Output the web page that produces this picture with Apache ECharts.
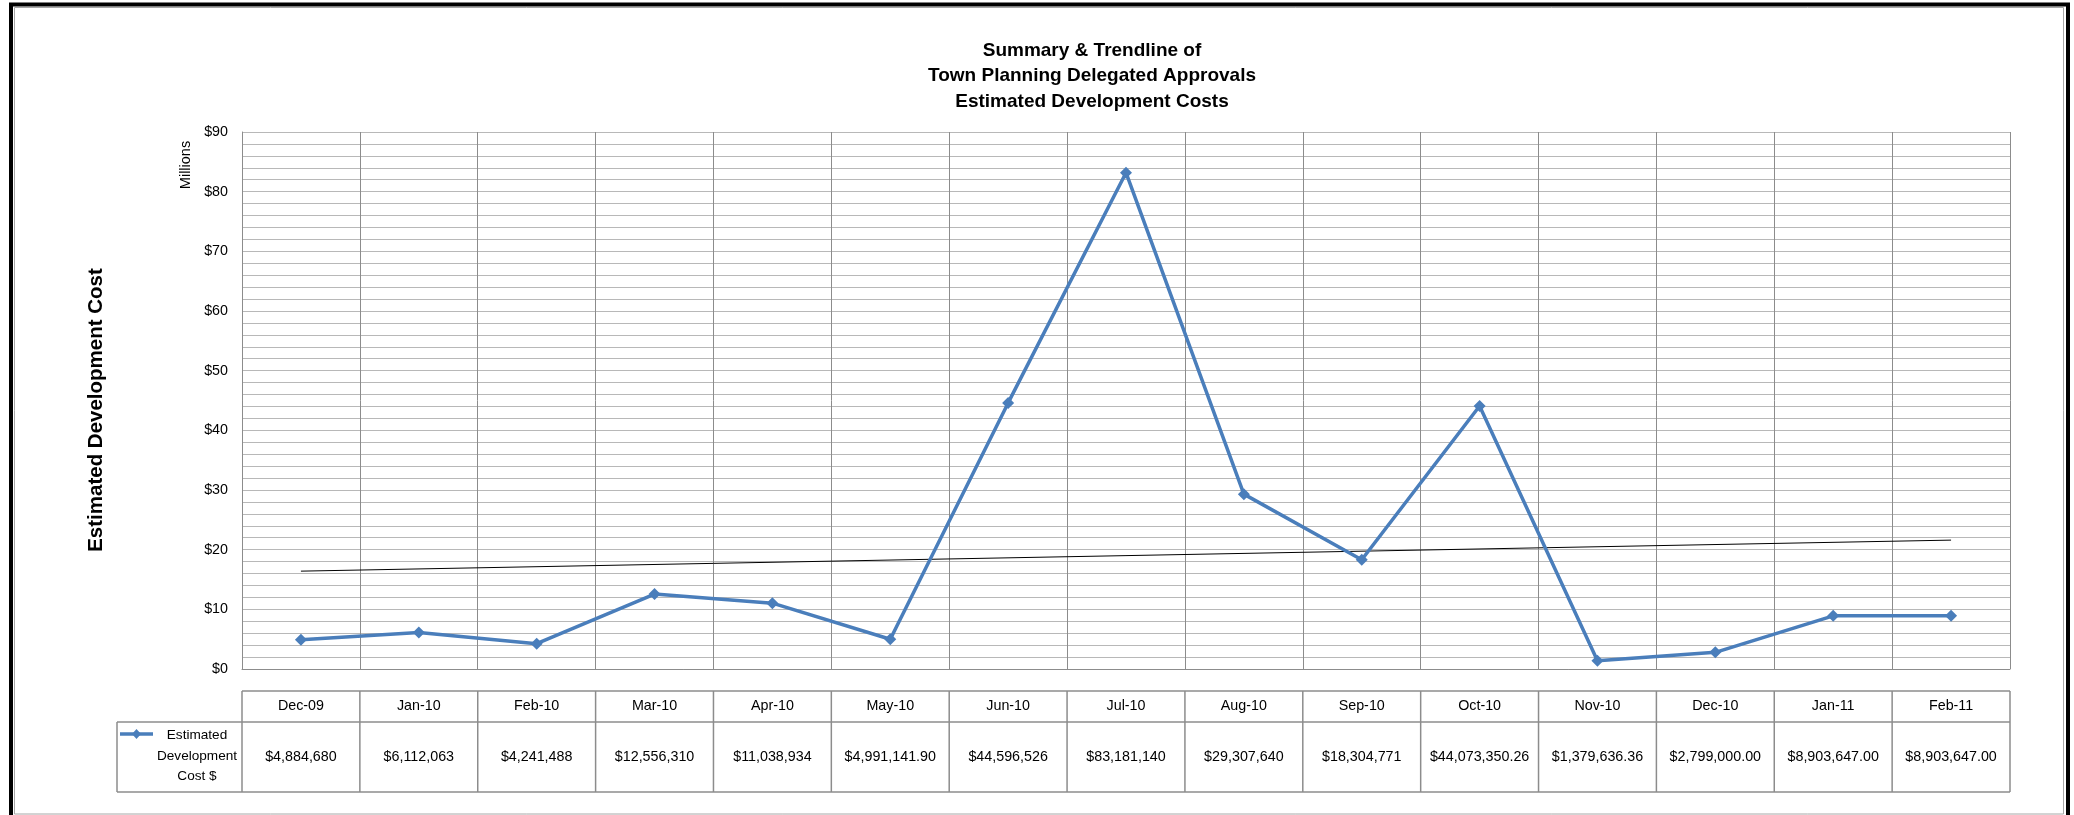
<!DOCTYPE html>
<html>
<head>
<meta charset="utf-8">
<script src="https://cdn.jsdelivr.net/npm/echarts@6/dist/echarts.min.js"></script>
<style>
html,body{margin:0;padding:0;background:#fff;}
#chart{width:2074px;height:815px;}
</style>
</head>
<body>
<div id="chart"></div>
<script>
// ---- data ----
const categories = ['Dec-09','Jan-10','Feb-10','Mar-10','Apr-10','May-10','Jun-10','Jul-10','Aug-10','Sep-10','Oct-10','Nov-10','Dec-10','Jan-11','Feb-11'];
const costValues = [4884680, 6112063, 4241488, 12556310, 11038934, 4991141.90, 44596526, 83181140, 29307640, 18304771, 44073350.26, 1379636.36, 2799000.00, 8903647.00, 8903647.00];
const costLabels = ['$4,884,680','$6,112,063','$4,241,488','$12,556,310','$11,038,934','$4,991,141.90','$44,596,526','$83,181,140','$29,307,640','$18,304,771','$44,073,350.26','$1,379,636.36','$2,799,000.00','$8,903,647.00','$8,903,647.00'];
const trendEnds = [[0, 16.4], [14, 21.6]]; // in millions
const yTicks = [0, 10, 20, 30, 40, 50, 60, 70, 80, 90];
const seriesName = 'Estimated Development Cost $';
const legendLines = ['Estimated', 'Development', 'Cost $'];
const titleLines = ['Summary & Trendline of', 'Town Planning Delegated Approvals', 'Estimated Development Costs'];

const FONT = 'Liberation Sans, Arial, sans-serif';
const BLUE = '#4A7EBB';
const TXT = 14.3;
const valuesM = costValues.map(v => v / 1e6);

const chart = echarts.init(document.getElementById('chart'), null, {renderer: 'canvas'});

const option = {
  animation: false,
  backgroundColor: '#fff',
  title: {
    text: titleLines.join('\n'),
    left: 1087,
    top: 33,
    textAlign: 'center',
    textStyle: {fontFamily: FONT, fontSize: 19, fontWeight: 'bold', color: '#000', lineHeight: 25.5}
  },
  grid: {left: 242, right: 64, top: 132, bottom: 146, containLabel: false},
  xAxis: {
    type: 'category',
    data: categories,
    boundaryGap: true,
    axisLine: {show: true, lineStyle: {color: '#8C8C8C', width: 1}},
    axisTick: {show: false},
    axisLabel: {show: false},
    splitLine: {show: true, lineStyle: {color: '#8C8C8C', width: 1}}
  },
  yAxis: {
    type: 'value',
    min: yTicks[0],
    max: yTicks[yTicks.length - 1],
    interval: 10,
    axisLine: {show: true, lineStyle: {color: '#8C8C8C', width: 1}},
    axisTick: {show: false},
    axisLabel: {
      margin: 14,
      fontFamily: FONT, fontSize: TXT, color: '#000',
      formatter: v => '$' + v
    },
    splitLine: {show: true, lineStyle: {color: '#B8B8B8', width: 1}},
    minorTick: {show: false, splitNumber: 5},
    minorSplitLine: {show: true, lineStyle: {color: '#B8B8B8', width: 1}}
  },
  series: [
    {
      name: seriesName,
      type: 'line',
      data: valuesM,
      symbol: 'diamond',
      symbolSize: 12,
      lineStyle: {color: BLUE, width: 3.5},
      itemStyle: {color: BLUE},
      z: 5
    },
    {
      name: 'Trendline',
      type: 'line',
      data: trendEnds,
      symbol: 'none',
      lineStyle: {color: '#000', width: 1},
      z: 4
    }
  ]
};
chart.setOption(option);

// ---- build frame, data table and side texts from axis positions ----
const x0 = chart.convertToPixel({xAxisIndex: 0}, 0);
const x1 = chart.convertToPixel({xAxisIndex: 0}, 1);
const band = x1 - x0;
const tableTop = 691, tableMid = 722, tableBottom = 792;
const legendLeft = 117;
const plotLeft = x0 - band / 2;
const plotRight = chart.convertToPixel({xAxisIndex: 0}, categories.length - 1) + band / 2;
const lineColor = '#8C8C8C';
const g = [];

// outer frame
g.push({type: 'rect', shape: {x: 11, y: 4.5, width: 2057, height: 820}, style: {fill: null, stroke: '#000', lineWidth: 4}, silent: true});
g.push({type: 'rect', shape: {x: 14.5, y: 7.5, width: 2049, height: 806.5}, style: {fill: null, stroke: '#A6A6A6', lineWidth: 1}, silent: true});

// table horizontal lines
g.push({type: 'line', shape: {x1: plotLeft, y1: tableTop, x2: plotRight, y2: tableTop}, style: {stroke: lineColor, lineWidth: 1.5}});
g.push({type: 'line', shape: {x1: legendLeft, y1: tableMid, x2: plotRight, y2: tableMid}, style: {stroke: lineColor, lineWidth: 1.5}});
g.push({type: 'line', shape: {x1: legendLeft, y1: tableBottom, x2: plotRight, y2: tableBottom}, style: {stroke: lineColor, lineWidth: 1.5}});
g.push({type: 'line', shape: {x1: legendLeft, y1: tableMid, x2: legendLeft, y2: tableBottom}, style: {stroke: lineColor, lineWidth: 1.5}});

categories.forEach((c, i) => {
  const cx = chart.convertToPixel({xAxisIndex: 0}, i);
  const left = cx - band / 2;
  g.push({type: 'line', shape: {x1: left, y1: tableTop, x2: left, y2: tableBottom}, style: {stroke: lineColor, lineWidth: 1.5}});
  g.push({type: 'text', x: cx, y: (tableTop + tableMid) / 2, style: {text: c, fontFamily: FONT, fontSize: TXT, fill: '#000', align: 'center', verticalAlign: 'middle'}});
  g.push({type: 'text', x: cx, y: (tableMid + tableBottom) / 2, style: {text: costLabels[i], fontFamily: FONT, fontSize: TXT, fill: '#000', align: 'center', verticalAlign: 'middle'}});
});
g.push({type: 'line', shape: {x1: plotRight, y1: tableTop, x2: plotRight, y2: tableBottom}, style: {stroke: lineColor, lineWidth: 1.5}});

// legend key in table
g.push({type: 'line', shape: {x1: 120, y1: 734, x2: 153, y2: 734}, style: {stroke: BLUE, lineWidth: 3.5}});
g.push({type: 'polygon', shape: {points: [[136.5, 729], [141, 734], [136.5, 739], [132, 734]]}, style: {fill: BLUE}});
legendLines.forEach((t, i) => {
  g.push({type: 'text', x: 197, y: 735.5 + i * 20.3, style: {text: t, fontFamily: FONT, fontSize: 13.6, fill: '#000', align: 'center', verticalAlign: 'middle'}});
});

// axis side texts
g.push({type: 'text', x: 186, y: 165, rotation: Math.PI / 2, style: {text: 'Millions', fontFamily: FONT, fontSize: 14.5, fill: '#000', align: 'center', verticalAlign: 'middle'}});
g.push({type: 'text', x: 96, y: 410, rotation: Math.PI / 2, style: {text: 'Estimated Development Cost', fontFamily: FONT, fontSize: 20.5, fontWeight: 'bold', fill: '#000', align: 'center', verticalAlign: 'middle'}});

chart.setOption({graphic: {elements: g}});
</script>
</body>
</html>
